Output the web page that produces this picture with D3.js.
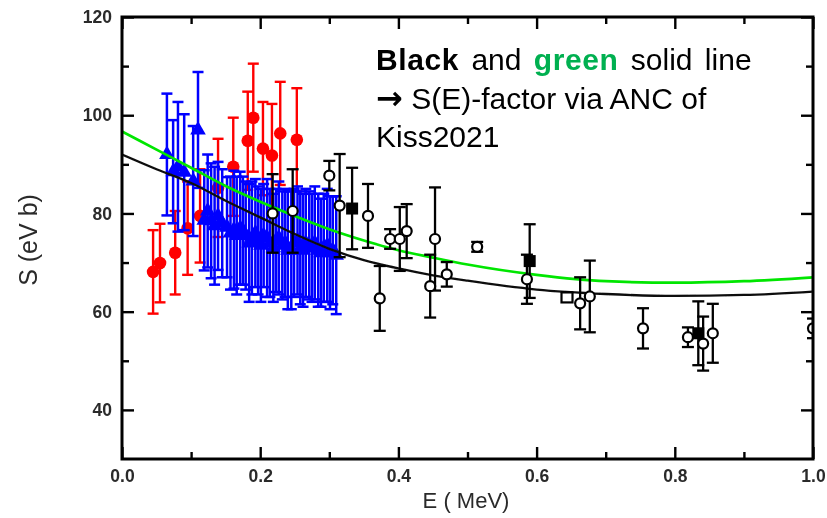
<!DOCTYPE html>
<html>
<head>
<meta charset="utf-8">
<script src="https://cdn.jsdelivr.net/npm/d3@7/dist/d3.min.js"></script>
<style>
  body { margin: 0; background: #fff; }
  svg { display: block; }
</style>
</head>
<body>
<svg id="chart" width="827" height="518"></svg>
<script>
// ---- data: E in MeV, S in eV b, err = half length of the error bar ----
const redE   = [0.045, 0.055, 0.077, 0.095, 0.113, 0.139, 0.161, 0.182, 0.190, 0.204, 0.217, 0.229, 0.253];
const redS   = [68.1, 69.9, 72.0, 77.0, 79.5, 85.2, 89.5, 94.8, 99.5, 93.2, 91.8, 96.3, 95.0];
const redErr = [8.5, 8.0, 8.5, 9.5, 9.5, 10.0, 10.0, 10.0, 11.0, 9.5, 10.5, 10.5, 10.5];

const blueE   = [0.065, 0.074, 0.081, 0.090, 0.103, 0.110, 0.119, 0.124, 0.129, 0.134, 0.139, 0.145, 0.152, 0.157,
                 0.162, 0.166, 0.171, 0.175, 0.179, 0.184, 0.188, 0.193, 0.197, 0.201, 0.205, 0.210, 0.214, 0.219,
                 0.223, 0.227, 0.232, 0.236, 0.240, 0.245, 0.249, 0.254, 0.258, 0.262, 0.266, 0.271, 0.275, 0.279,
                 0.284, 0.288, 0.292, 0.297, 0.301, 0.305, 0.310];
const blueS   = [92.0, 88.5, 89.5, 88.4, 86.6, 97.0, 78.6, 80.5, 78.5, 77.5, 79.5, 78.0, 77.2, 76.0,
                 76.7, 75.5, 77.0, 76.5, 75.5, 74.0, 75.0, 76.0, 74.5, 73.5, 75.5, 75.0, 74.0, 73.0,
                 74.5, 75.0, 73.5, 74.0, 72.5, 72.5, 74.0, 74.5, 73.0, 72.5, 74.0, 73.5, 73.0, 74.0,
                 72.5, 72.0, 73.0, 73.5, 72.0, 72.5, 71.5];
const blueErr = [12.4, 10.5, 13.2, 11.8, 11.2, 11.8, 10.2, 11.5, 11.7, 12.0, 11.0, 11.0, 10.2, 11.5,
                 12.0, 12.0, 11.5, 11.0, 11.0, 12.0, 11.5, 11.0, 11.0, 11.5, 10.5, 12.0, 11.0, 11.0,
                 10.5, 11.5, 11.0, 11.0, 12.0, 12.0, 11.0, 11.0, 11.5, 11.5, 11.0, 11.0, 11.0, 11.5,
                 11.5, 11.0, 11.0, 11.5, 11.5, 11.0, 12.0];

const circE   = [0.218, 0.247, 0.300, 0.315, 0.356, 0.373, 0.388, 0.402, 0.412, 0.446, 0.453, 0.470, 0.514,
                 0.586, 0.663, 0.677, 0.754, 0.819, 0.841, 0.855, 1.000];
const circS   = [80.0, 80.5, 87.7, 81.6, 79.5, 62.7, 74.8, 74.8, 76.4, 65.2, 74.8, 67.6, 73.2,
                 66.6, 61.7, 63.1, 56.6, 54.8, 53.5, 55.6, 56.6];
const circErr = [8.0, 8.5, 3.0, 10.5, 6.5, 6.6, 2.0, 6.5, 5.5, 6.4, 10.5, 2.5, 1.0,
                 5.0, 5.3, 7.3, 4.1, 2.0, 5.5, 6.0, 2.0];

const sqE   = [0.333, 0.590, 0.834];
const sqS   = [81.0, 70.3, 55.6];
const sqErr = [8.3, 7.5, 6.5];

const openSqE = [0.644];
const openSqS = [62.9];

// S(E) curves from the ANC of Kiss2021
const curveE     = [0, 0.05, 0.1, 0.15, 0.2, 0.25, 0.3, 0.35, 0.4, 0.45, 0.5, 0.6, 0.7, 0.8, 0.9, 1.0];
const blackCurve = [92.0, 89.0, 86.2, 82.6, 79.2, 75.8, 72.8, 70.5, 68.8, 67.4, 66.3, 64.5, 63.6, 63.2, 63.4, 64.1];
const greenCurve = [96.7, 93.0, 89.3, 85.6, 82.4, 79.5, 76.8, 74.5, 72.5, 71.0, 69.6, 67.5, 66.2, 65.9, 66.2, 67.0];

const xMajor = [0, 0.2, 0.4, 0.6, 0.8, 1.0];
const xMinor = [0.1, 0.3, 0.5, 0.7, 0.9];
const yMajor = [40, 60, 80, 100, 120];
const yMinor = [50, 70, 90, 110];

// ---- layout ----
const svg = d3.select("#chart");
const plotL = 122, plotR = 813, plotT = 17, plotB = 459;
const x = d3.scaleLinear().domain([0, 1]).range([plotL, plotR]);
const y = d3.scaleLinear().domain([30, 120]).range([plotB, plotT]);

const defs = svg.append("defs");
defs.append("clipPath").attr("id", "plotClip")
  .append("rect").attr("x", plotL).attr("y", plotT).attr("width", plotR - plotL).attr("height", plotB - plotT);
defs.append("filter").attr("id", "soft").attr("x", "-5%").attr("y", "-5%").attr("width", "110%").attr("height", "110%")
  .append("feGaussianBlur").attr("stdDeviation", 0.6);

const chart = svg.append("g").attr("filter", "url(#soft)");
const plot = chart.append("g").attr("clip-path", "url(#plotClip)");

const rows = (E, S, err) => E.map((e, i) => ({ e, s: S[i], err: err ? err[i] : 0 }));

function errorBars(data, color, cap, width) {
  const g = plot.append("g").attr("stroke", color).attr("stroke-width", width).attr("fill", "none");
  g.selectAll("line.v").data(data).join("line").attr("class", "v")
    .attr("x1", d => x(d.e)).attr("x2", d => x(d.e))
    .attr("y1", d => y(d.s - d.err)).attr("y2", d => y(d.s + d.err));
  g.selectAll("line.t").data(data).join("line").attr("class", "t")
    .attr("x1", d => x(d.e) - cap).attr("x2", d => x(d.e) + cap)
    .attr("y1", d => y(d.s + d.err)).attr("y2", d => y(d.s + d.err));
  g.selectAll("line.b").data(data).join("line").attr("class", "b")
    .attr("x1", d => x(d.e) - cap).attr("x2", d => x(d.e) + cap)
    .attr("y1", d => y(d.s - d.err)).attr("y2", d => y(d.s - d.err));
}

const red = rows(redE, redS, redErr);
const blue = rows(blueE, blueS, blueErr);
const circ = rows(circE, circS, circErr);
const sq = rows(sqE, sqS, sqErr);
const openSq = rows(openSqE, openSqS, null);

// red filled circles
errorBars(red, "#ff0000", 5.5, 2.4);
plot.append("g").selectAll("circle").data(red).join("circle")
  .attr("cx", d => x(d.e)).attr("cy", d => y(d.s)).attr("r", 6.3).attr("fill", "#ff0000");

// blue filled triangles
errorBars(blue, "#0000ff", 5.5, 2.5);
const tri = d3.symbol().type(d3.symbolTriangle).size(105);
plot.append("g").selectAll("path").data(blue).join("path")
  .attr("transform", d => `translate(${x(d.e)},${y(d.s)})`).attr("d", tri).attr("fill", "#0000ff");

// model curves
const line = (vals) => d3.line().x((d, i) => x(curveE[i])).y(d => y(d)).curve(d3.curveMonotoneX)(vals);
plot.append("path").attr("d", line(blackCurve)).attr("fill", "none").attr("stroke", "#111").attr("stroke-width", 2.3);
plot.append("path").attr("d", line(greenCurve)).attr("fill", "none").attr("stroke", "#00e600").attr("stroke-width", 2.7);

// black data: open circles, filled squares, open squares
errorBars(circ, "#000", 6, 2.3);
errorBars(sq, "#000", 6, 2.3);
plot.append("g").selectAll("circle").data(circ).join("circle")
  .attr("cx", d => x(d.e)).attr("cy", d => y(d.s)).attr("r", 5)
  .attr("fill", "#fff").attr("stroke", "#000").attr("stroke-width", 2.2);
plot.append("g").selectAll("rect").data(sq).join("rect")
  .attr("x", d => x(d.e) - 6).attr("y", d => y(d.s) - 6).attr("width", 12).attr("height", 12).attr("fill", "#000");
plot.append("g").selectAll("rect").data(openSq).join("rect")
  .attr("x", d => x(d.e) - 5.5).attr("y", d => y(d.s) - 5).attr("width", 11).attr("height", 10)
  .attr("fill", "#fff").attr("stroke", "#000").attr("stroke-width", 2.2);

// ---- axes: inward ticks on all four sides ----
const labelFont = "'Liberation Sans', Arial, Helvetica, sans-serif";
function styleAxis(g) {
  g.select(".domain").remove();
  g.selectAll(".tick line").attr("stroke", "#000").attr("stroke-width", 2.4);
  g.selectAll("text").attr("fill", "#2a2a2a").attr("font-family", labelFont)
    .attr("font-size", 17.5).attr("font-weight", "bold");
}
const axes = chart.append("g");
axes.append("g").attr("transform", `translate(0,${plotB})`)
  .call(d3.axisBottom(x).tickValues(xMajor).tickSize(-12).tickPadding(11).tickFormat(d3.format(".1f")))
  .call(styleAxis);
axes.append("g").attr("transform", `translate(0,${plotB})`)
  .call(d3.axisBottom(x).tickValues(xMinor).tickSize(-7).tickFormat("")).call(styleAxis);
axes.append("g").attr("transform", `translate(0,${plotT})`)
  .call(d3.axisTop(x).tickValues(xMajor).tickSize(-12).tickFormat("")).call(styleAxis);
axes.append("g").attr("transform", `translate(0,${plotT})`)
  .call(d3.axisTop(x).tickValues(xMinor).tickSize(-7).tickFormat("")).call(styleAxis);
axes.append("g").attr("transform", `translate(${plotL},0)`)
  .call(d3.axisLeft(y).tickValues(yMajor).tickSize(-12).tickPadding(10).tickFormat(d3.format("d")))
  .call(styleAxis);
axes.append("g").attr("transform", `translate(${plotL},0)`)
  .call(d3.axisLeft(y).tickValues(yMinor).tickSize(-7).tickFormat("")).call(styleAxis);
axes.append("g").attr("transform", `translate(${plotR},0)`)
  .call(d3.axisRight(y).tickValues(yMajor).tickSize(-12).tickFormat("")).call(styleAxis);
axes.append("g").attr("transform", `translate(${plotR},0)`)
  .call(d3.axisRight(y).tickValues(yMinor).tickSize(-7).tickFormat("")).call(styleAxis);

// frame
axes.append("rect").attr("x", plotL).attr("y", plotT).attr("width", plotR - plotL).attr("height", plotB - plotT)
  .attr("fill", "none").attr("stroke", "#000").attr("stroke-width", 3);

// axis titles
chart.append("text").attr("x", 466).attr("y", 508).attr("text-anchor", "middle")
  .attr("font-family", labelFont).attr("font-size", 22).attr("fill", "#2a2a2a").text("E ( MeV)");
chart.append("text").attr("transform", "translate(37,240) rotate(-90)").attr("text-anchor", "middle")
  .attr("font-family", labelFont).attr("font-size", 25).attr("fill", "#2a2a2a").text("S (eV b)");

// ---- annotation ----
const note = svg.append("text").attr("font-family", labelFont).attr("font-size", 30).attr("fill", "#000");
const l1 = note.append("tspan").attr("x", 376).attr("y", 70).attr("word-spacing", 4);
l1.append("tspan").attr("font-weight", "bold").attr("letter-spacing", 0.6).text("Black");
l1.append("tspan").text(" and ");
l1.append("tspan").attr("font-weight", "bold").attr("letter-spacing", 0.6).attr("fill", "#00b050").text("green");
l1.append("tspan").text(" solid line");
const l2 = note.append("tspan").attr("x", 376).attr("y", 108.5);
l2.append("tspan").attr("font-family", "'DejaVu Sans', sans-serif").attr("font-weight", "bold").attr("font-size", 32).text("\u2192");
l2.append("tspan").text(" S(E)-factor via ANC of");
note.append("tspan").attr("x", 376).attr("y", 147).text("Kiss2021");
</script>
</body>
</html>
